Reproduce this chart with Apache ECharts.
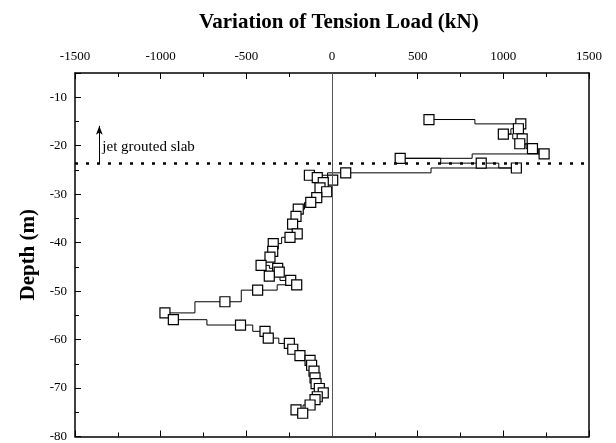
<!DOCTYPE html>
<html>
<head>
<meta charset="utf-8">
<script src="https://cdn.jsdelivr.net/npm/echarts@6/dist/echarts.min.js"></script>
<style>
  html, body { margin: 0; padding: 0; background: #fff; }
  #main { width: 616px; height: 443px; }
</style>
</head>
<body>
<div id="main"></div>
<script>
// tension load (kN) against depth (m)
var loads = [566, 1102, 1088, 1000, 1110, 1096, 1170, 1238, 398, 871, 1076,
    80, -132, -86, 4, -51, -70, -31, -89, -124, -197, -210, -230, -203, -245,
    -343, -346, -362, -414, -317, -308, -366, -241, -206, -434, -625, -975, -926,
    -534, -391, -372, -249, -229, -187, -128, -119, -105, -99, -93, -74, -51,
    -86, -99, -128, -210, -171];
var depths = [-14.6, -15.5, -16.5, -17.6, -18.6, -19.6, -20.6, -21.7, -22.6, -23.6, -24.6,
    -25.6, -26.1, -26.6, -27.1, -27.6, -28.7, -29.5, -30.7, -31.7, -33.1, -34.6, -36.2, -38.2, -38.9,
    -40.2, -41.8, -43.0, -44.7, -45.3, -46.1, -46.9, -47.8, -48.7, -49.8, -52.2, -54.5, -55.9,
    -57.0, -58.3, -59.7, -60.8, -62.0, -63.3, -64.3, -65.3, -66.5, -67.9, -69.1, -70.1, -71.0,
    -71.8, -72.4, -73.5, -74.5, -75.2];
var slabDepth = -23.6;
var arrowLoad = -1358;
var arrowTop = -15.9;

var serif = 'Liberation Serif';
var chart = echarts.init(document.getElementById('main'));

var xBase = {
    type: 'value', min: -1500, max: 1500, interval: 500,
    axisLine: { show: true, onZero: false, lineStyle: { color: '#000', width: 1.5 } },
    axisTick: { inside: true, length: 6, lineStyle: { color: '#000' } },
    minorTick: { show: true, splitNumber: 2, length: 4, lineStyle: { color: '#000' } },
    splitLine: { show: false }
};

var option = {
    animation: false,
    title: {
        text: 'Variation of Tension Load (kN)',
        left: 194, top: 7,
        textStyle: { fontFamily: serif, fontSize: 21, fontWeight: 'bold', color: '#000' }
    },
    grid: { left: 75, right: 27, top: 73, bottom: 3 },
    xAxis: [
        Object.assign({}, xBase, {
            position: 'top',
            axisLabel: {
                fontFamily: serif, fontSize: 13, color: '#000', margin: 10,
                formatter: function (v) { return String(v); }
            }
        }),
        Object.assign({}, xBase, {
            position: 'bottom',
            axisLabel: { show: false }
        })
    ],
    yAxis: [
        {
            type: 'value', min: -80, max: -5, interval: 10,
            name: 'Depth (m)', nameLocation: 'middle', nameGap: 34,
            nameTextStyle: { fontFamily: serif, fontSize: 21, fontWeight: 'bold', color: '#000' },
            axisLine: { show: true, onZero: false, lineStyle: { color: '#000', width: 1.5 } },
            axisTick: { inside: true, length: 6, lineStyle: { color: '#000' } },
            minorTick: { show: true, splitNumber: 2, length: 4, lineStyle: { color: '#000' } },
            axisLabel: { fontFamily: serif, fontSize: 13, color: '#000', margin: 8, showMaxLabel: false },
            splitLine: { show: false }
        },
        {
            type: 'value', min: -80, max: -5, position: 'right',
            axisLine: { show: true, onZero: false, lineStyle: { color: '#000', width: 1.5 } },
            axisTick: { show: false }, axisLabel: { show: false }, splitLine: { show: false }
        }
    ],
    series: [{
        type: 'line',
        step: 'middle',
        data: loads.map(function (v, i) { return [v, depths[i]]; }),
        symbol: 'rect',
        symbolSize: 10,
        showAllSymbol: true,
        lineStyle: { color: '#000', width: 1 },
        itemStyle: { color: '#fff', borderColor: '#000', borderWidth: 1.2 },
        markLine: {
            silent: true,
            symbol: ['none', 'none'],
            label: { show: false },
            data: [
                [{ coord: [0, -80], lineStyle: { color: '#555', width: 1, type: 'solid' } }, { coord: [0, -5] }],
                [{ coord: [-1500, slabDepth], lineStyle: { color: '#000', width: 2.5, type: [3, 8] } }, { coord: [1500, slabDepth] }],
                [{ coord: [arrowLoad, slabDepth], lineStyle: { color: '#000', width: 1, type: 'solid' } },
                 { coord: [arrowLoad, arrowTop], symbol: 'arrow', symbolSize: [5, 9] }]
            ]
        },
        markPoint: {
            silent: true,
            symbol: 'circle', symbolSize: 0,
            data: [{ coord: [arrowLoad, -20.2] }],
            label: {
                show: true, position: 'right', distance: 3,
                formatter: 'jet grouted slab',
                fontFamily: serif, fontSize: 15, color: '#000'
            }
        }
    }]
};
chart.setOption(option);
</script>
</body>
</html>
